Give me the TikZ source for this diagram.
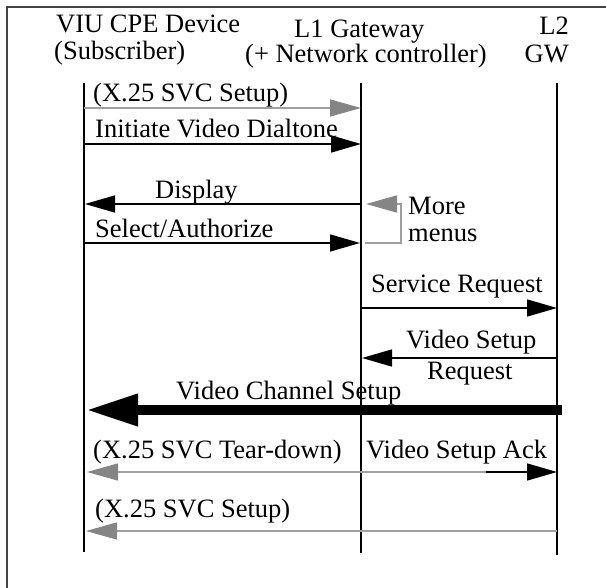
\documentclass[tikz,border=0pt]{standalone}
\usepackage{fontspec}
\setmainfont{Liberation Serif}
\usetikzlibrary{arrows.meta}
\definecolor{lgray}{HTML}{A0A0A0}
\definecolor{hgray}{HTML}{858585}
\definecolor{fgray}{HTML}{444444}
\begin{document}
\begin{tikzpicture}[x=1pt,y=-1pt,
  lbl/.style={inner sep=0pt, font=\fontsize{26.5}{28}\selectfont},
  life/.style={line width=1.4pt},
  msg/.style={line width=1.5pt,-{Triangle[length=30pt,width=17pt]}},
  gmsg/.style={line width=1.5pt,draw=lgray,-{Triangle[length=31pt,width=17pt,color=hgray]}},
  bigmsg/.style={line width=10pt,-{Triangle[length=52pt,width=30pt]}},
]
\useasboundingbox (0,0) rectangle (606,588);
% frame
\draw[fgray,line width=2pt] (7,620) -- (7,7) -- (640,7);

% headers
\node[lbl,anchor=base west] (hA1) at (56,33) {VIU CPE Device};
\node[lbl,anchor=base west] (hA2) at (54,60) {(Subscriber)};
\node[lbl,anchor=base west] (hB1) at (294,38) {L1 Gateway};
\node[lbl,anchor=base west] (hB2) at (245,63) {(+ Network controller)};
\node[lbl,anchor=base east] (hC1) at (569,35) {L2};
\node[lbl,anchor=base east] (hC2) at (569,63) {GW};

% lifelines
\coordinate (A0) at (84,83);  \coordinate (Ae) at (84,552);
\coordinate (B0) at (361,83); \coordinate (Be) at (361,553);
\coordinate (C0) at (557,83); \coordinate (Ce) at (557,555);
\draw[life] (A0) -- (Ae);
\draw[life] (B0) -- (Be);
\draw[life] (C0) -- (Ce);

% message end points
\coordinate (A1) at (84,108);  \coordinate (B1) at (361,108);
\coordinate (A2) at (84,144);  \coordinate (B2) at (361,144);
\coordinate (A3) at (85,204);  \coordinate (B3) at (361,204);
\coordinate (A4) at (84,243);  \coordinate (B4) at (360,243);
\coordinate (L1) at (365,243); \coordinate (L2) at (401,243);
\coordinate (L3) at (401,204); \coordinate (L4) at (366,204);
\coordinate (B5) at (361,308); \coordinate (C5) at (557,308);
\coordinate (C6) at (557,358); \coordinate (B6) at (362,358);
\coordinate (C7) at (562,410); \coordinate (A7) at (86,410);
\coordinate (M8) at (486,472); \coordinate (A8) at (87,472);
\coordinate (C8) at (557,472);
\coordinate (C9) at (557,531); \coordinate (A9) at (86,531);

% messages
\node[lbl,anchor=base west] (t1) at (93,102) {(X.25 SVC Setup)};
\draw[gmsg] (A1) -- (B1);
\node[lbl,anchor=base west] (t2) at (95,138) {Initiate Video Dialtone};
\draw[msg] (A2) -- (B2);
\node[lbl,anchor=base west] (t3) at (155,199) {Display};
\draw[msg] (B3) -- (A3);
\node[lbl,anchor=base west] (t4) at (95,238) {Select/Authorize};
\draw[msg] (A4) -- (B4);
\draw[gmsg] (L1) -- (L2) -- (L3) -- (L4);
\node[lbl,anchor=base west] (t5a) at (408,215) {More};
\node[lbl,anchor=base west] (t5b) at (408,242) {menus};
\node[lbl,anchor=base west] (t6) at (371,293) {Service Request};
\draw[msg] (B5) -- (C5);
\node[lbl,anchor=base west] (t7a) at (406,349) {Video Setup};
\node[lbl,anchor=base west] (t7b) at (427,380) {Request};
\draw[msg] (C6) -- (B6);
\node[lbl,anchor=base west] (t8) at (176,400) {Video Channel Setup};
\draw[bigmsg] (C7) -- (A7);
\node[lbl,anchor=base west] (t9) at (93,459) {(X.25 SVC Tear-down)};
\node[lbl,anchor=base west] (t10) at (366,459) {Video Setup Ack};
\draw[gmsg] (M8) -- (A8);
\draw[msg] (M8) -- (C8);
\node[lbl,anchor=base west] (t11) at (95,518) {(X.25 SVC Setup)};
\draw[gmsg] (C9) -- (A9);
\end{tikzpicture}
\end{document}
